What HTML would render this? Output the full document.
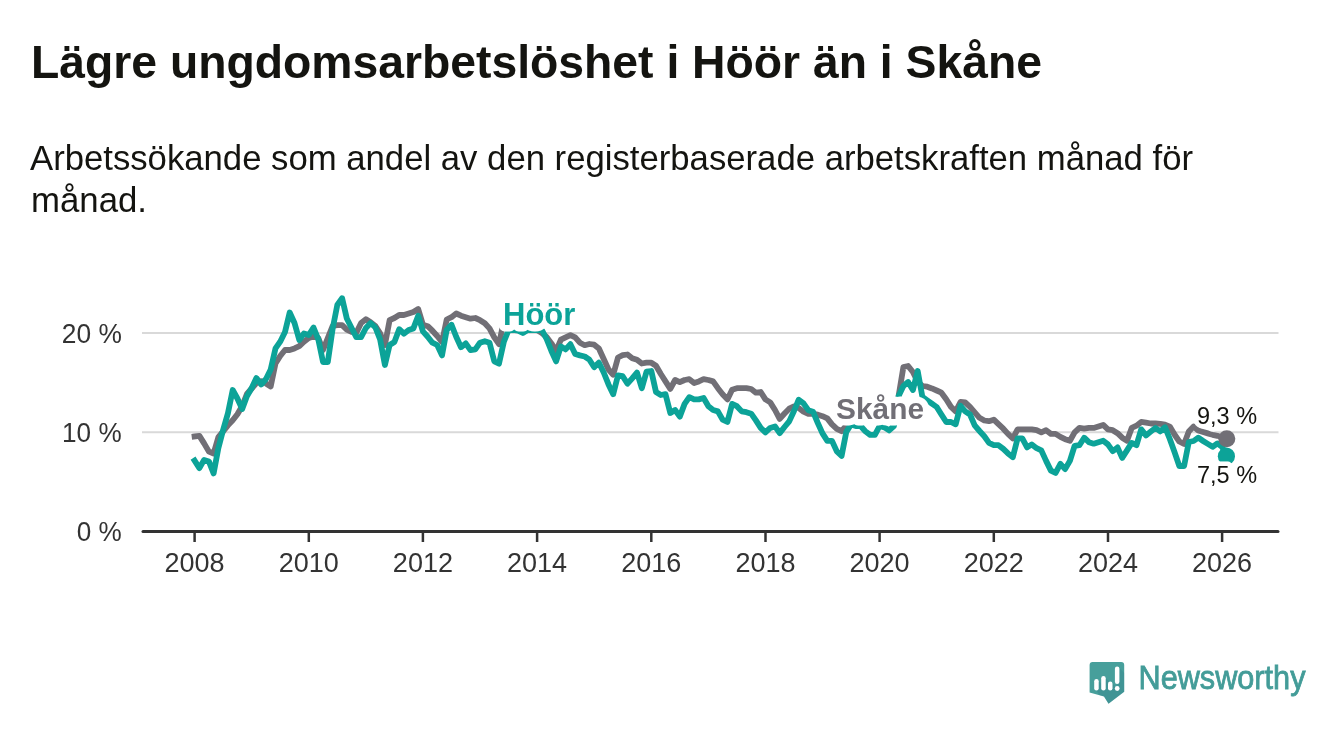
<!DOCTYPE html>
<html><head><meta charset="utf-8"><style>
html,body{margin:0;padding:0;background:#fff;}
body{width:1340px;height:734px;overflow:hidden;}
svg{display:block;font-family:"Liberation Sans", sans-serif;will-change:transform;}
</style></head><body>
<svg width="1340" height="734" viewBox="0 0 1340 734">
<rect width="1340" height="734" fill="#fff"/>
<text x="31" y="77.8" font-size="47" font-weight="bold" fill="#141410" textLength="1011" lengthAdjust="spacingAndGlyphs">Lägre ungdomsarbetslöshet i Höör än i Skåne</text>
<text x="30" y="169.6" font-size="35.8" fill="#141410" textLength="1163" lengthAdjust="spacingAndGlyphs">Arbetssökande som andel av den registerbaserade arbetskraften månad för</text>
<text x="31" y="211.8" font-size="35.8" fill="#141410" textLength="116" lengthAdjust="spacingAndGlyphs">månad.</text>
<g font-size="27" fill="#333" text-anchor="end">
<text x="121.8" y="342.8" textLength="60" lengthAdjust="spacingAndGlyphs">20 %</text>
<text x="121.6" y="442" textLength="59.5" lengthAdjust="spacingAndGlyphs">10 %</text>
<text x="121.8" y="541" textLength="45" lengthAdjust="spacingAndGlyphs">0 %</text>
</g>
<line x1="142" y1="333.1" x2="1278.5" y2="333.1" stroke="#d9d9d9" stroke-width="2"/>
<line x1="142" y1="432.3" x2="1278.5" y2="432.3" stroke="#d9d9d9" stroke-width="2"/>
<line x1="194.6" y1="531" x2="194.6" y2="542" stroke="#333" stroke-width="2.5"/><line x1="308.8" y1="531" x2="308.8" y2="542" stroke="#333" stroke-width="2.5"/><line x1="422.9" y1="531" x2="422.9" y2="542" stroke="#333" stroke-width="2.5"/><line x1="537.1" y1="531" x2="537.1" y2="542" stroke="#333" stroke-width="2.5"/><line x1="651.3" y1="531" x2="651.3" y2="542" stroke="#333" stroke-width="2.5"/><line x1="765.5" y1="531" x2="765.5" y2="542" stroke="#333" stroke-width="2.5"/><line x1="879.6" y1="531" x2="879.6" y2="542" stroke="#333" stroke-width="2.5"/><line x1="993.8" y1="531" x2="993.8" y2="542" stroke="#333" stroke-width="2.5"/><line x1="1108.0" y1="531" x2="1108.0" y2="542" stroke="#333" stroke-width="2.5"/><line x1="1222.1" y1="531" x2="1222.1" y2="542" stroke="#333" stroke-width="2.5"/>
<line x1="143" y1="531.4" x2="1278" y2="531.4" stroke="#333" stroke-width="3" stroke-linecap="round"/>
<text x="194.6" y="572.4" text-anchor="middle" font-size="27" fill="#333">2008</text><text x="308.8" y="572.4" text-anchor="middle" font-size="27" fill="#333">2010</text><text x="422.9" y="572.4" text-anchor="middle" font-size="27" fill="#333">2012</text><text x="537.1" y="572.4" text-anchor="middle" font-size="27" fill="#333">2014</text><text x="651.3" y="572.4" text-anchor="middle" font-size="27" fill="#333">2016</text><text x="765.5" y="572.4" text-anchor="middle" font-size="27" fill="#333">2018</text><text x="879.6" y="572.4" text-anchor="middle" font-size="27" fill="#333">2020</text><text x="993.8" y="572.4" text-anchor="middle" font-size="27" fill="#333">2022</text><text x="1108.0" y="572.4" text-anchor="middle" font-size="27" fill="#333">2024</text><text x="1222.1" y="572.4" text-anchor="middle" font-size="27" fill="#333">2026</text>
<path d="M194.6,436.5 L199.4,435.9 L204.1,443.4 L208.9,451.6 L213.6,453.5 L218.4,437.0 L223.1,431.4 L227.9,425.4 L232.7,420.2 L237.4,414.2 L242.2,406.0 L246.9,394.0 L251.7,388.5 L256.4,383.0 L261.2,381.2 L266.0,383.5 L270.7,386.5 L275.5,363.4 L280.2,356.0 L285.0,350.0 L289.7,350.0 L294.5,348.4 L299.3,346.2 L304.0,341.7 L308.8,338.0 L313.5,336.4 L318.3,338.0 L323.0,350.0 L327.8,338.0 L332.6,326.0 L337.3,325.2 L342.1,325.2 L346.8,329.7 L351.6,332.0 L356.3,332.7 L361.1,323.0 L365.9,319.2 L370.6,322.2 L375.4,326.0 L380.1,333.4 L384.9,345.0 L389.6,320.2 L394.4,318.0 L399.2,315.0 L403.9,315.0 L408.7,313.5 L413.4,312.0 L418.2,309.0 L422.9,324.7 L427.7,326.2 L432.4,330.7 L437.2,336.0 L442.0,342.0 L446.7,319.5 L451.5,317.2 L456.2,313.5 L461.0,315.7 L465.7,317.2 L470.5,318.7 L475.3,318.0 L480.0,320.2 L484.8,323.2 L489.5,328.4 L494.3,337.4 L499.0,344.2 L503.8,321.0 L508.6,322.0 L513.3,325.0 L518.1,325.0 L522.8,325.0 L527.6,325.0 L532.3,325.0 L537.1,330.0 L541.9,333.0 L546.6,337.0 L551.4,343.4 L556.1,351.0 L560.9,339.7 L565.6,337.4 L570.4,335.2 L575.2,337.4 L579.9,342.7 L584.7,345.2 L589.4,344.0 L594.2,344.7 L598.9,348.5 L603.7,359.0 L608.5,369.5 L613.2,374.7 L618.0,357.5 L622.7,355.2 L627.5,354.5 L632.2,358.2 L637.0,359.7 L641.8,363.5 L646.5,362.7 L651.3,362.7 L656.0,365.7 L660.8,374.0 L665.5,381.4 L670.3,388.9 L675.1,380.0 L679.8,382.2 L684.6,380.0 L689.3,379.2 L694.1,383.0 L698.8,381.4 L703.6,379.2 L708.4,380.0 L713.1,381.4 L717.9,388.2 L722.6,394.2 L727.4,399.4 L732.1,389.7 L736.9,388.2 L741.7,388.2 L746.4,388.2 L751.2,389.0 L755.9,392.7 L760.7,392.0 L765.4,399.4 L770.2,402.4 L775.0,410.0 L779.7,418.9 L784.5,413.5 L789.2,408.7 L794.0,406.4 L798.7,408.0 L803.5,411.7 L808.3,413.9 L813.0,413.9 L817.8,414.7 L822.5,416.2 L827.3,418.4 L832.0,424.4 L836.8,428.9 L841.6,431.2 L846.3,425.5 L851.1,419.0 L855.8,419.0 L860.6,419.0 L865.3,419.0 L870.1,419.0 L874.9,419.0 L879.6,419.0 L884.4,419.0 L889.1,419.0 L893.9,419.0 L898.6,396.0 L903.4,367.0 L908.1,366.0 L912.9,372.0 L917.7,381.8 L922.4,386.0 L927.2,386.7 L931.9,388.4 L936.7,390.5 L941.4,392.7 L946.2,399.3 L951.0,406.9 L955.7,411.3 L960.5,402.0 L965.2,402.5 L970.0,406.9 L974.7,412.3 L979.5,417.8 L984.3,420.5 L989.0,421.2 L993.8,419.7 L998.5,424.2 L1003.3,428.7 L1008.0,433.9 L1012.8,438.4 L1017.6,429.4 L1022.3,429.4 L1027.1,429.4 L1031.8,429.4 L1036.6,430.2 L1041.3,432.4 L1046.1,430.2 L1050.9,433.9 L1055.6,433.9 L1060.4,436.9 L1065.1,439.2 L1069.9,440.7 L1074.6,432.4 L1079.4,427.9 L1084.2,428.7 L1088.9,427.9 L1093.7,427.9 L1098.4,426.4 L1103.2,424.9 L1107.9,429.4 L1112.7,430.2 L1117.5,433.2 L1122.2,437.7 L1127.0,440.7 L1131.7,427.9 L1136.5,425.7 L1141.2,421.9 L1146.0,422.6 L1150.8,423.5 L1155.5,423.5 L1160.3,423.8 L1165.0,424.6 L1169.8,426.6 L1174.5,434.5 L1179.3,441.5 L1184.1,444.0 L1188.8,431.5 L1193.6,426.5 L1198.3,430.5 L1203.1,432.0 L1207.8,433.4 L1212.6,434.8 L1217.4,435.8 L1222.1,437.2 L1226.9,438.6" fill="none" stroke="#716f76" stroke-width="5.8" stroke-linejoin="round" stroke-linecap="square"/>
<path d="M194.6,460.6 L199.4,468.1 L204.1,459.9 L208.9,461.4 L213.6,473.4 L218.4,447.9 L223.1,430.0 L227.9,413.4 L232.7,390.0 L237.4,398.5 L242.2,409.0 L246.9,396.2 L251.7,388.0 L256.4,378.0 L261.2,384.5 L266.0,379.0 L270.7,369.5 L275.5,348.4 L280.2,341.7 L285.0,332.0 L289.7,312.5 L294.5,323.0 L299.3,340.0 L304.0,333.4 L308.8,335.0 L313.5,327.5 L318.3,339.4 L323.0,362.0 L327.8,362.0 L332.6,329.0 L337.3,305.0 L342.1,298.2 L346.8,318.5 L351.6,328.0 L356.3,337.2 L361.1,337.2 L365.9,328.0 L370.6,323.0 L375.4,327.5 L380.1,339.4 L384.9,365.0 L389.6,345.0 L394.4,342.0 L399.2,329.2 L403.9,333.7 L408.7,330.0 L413.4,328.4 L418.2,315.7 L422.9,331.4 L427.7,336.7 L432.4,342.7 L437.2,345.0 L442.0,355.4 L446.7,330.0 L451.5,324.7 L456.2,336.7 L461.0,347.2 L465.7,343.4 L470.5,350.2 L475.3,349.4 L480.0,342.7 L484.8,341.2 L489.5,342.7 L494.3,361.4 L499.0,363.7 L503.8,342.0 L508.6,330.0 L513.3,330.0 L518.1,330.7 L522.8,333.0 L527.6,330.0 L532.3,330.0 L537.1,330.0 L541.9,330.0 L546.6,339.0 L551.4,351.0 L556.1,361.4 L560.9,346.4 L565.6,349.4 L570.4,344.2 L575.2,354.0 L579.9,355.4 L584.7,356.5 L589.4,359.7 L594.2,367.2 L598.9,362.7 L603.7,372.5 L608.5,384.4 L613.2,394.2 L618.0,375.4 L622.7,376.2 L627.5,383.7 L632.2,378.4 L637.0,372.5 L641.8,388.2 L646.5,371.7 L651.3,371.0 L656.0,392.0 L660.8,395.0 L665.5,394.2 L670.3,413.0 L675.1,410.0 L679.8,416.6 L684.6,403.9 L689.3,397.2 L694.1,399.4 L698.8,399.4 L703.6,398.0 L708.4,406.2 L713.1,410.0 L717.9,411.4 L722.6,419.6 L727.4,421.9 L732.1,403.9 L736.9,406.2 L741.7,411.4 L746.4,412.2 L751.2,413.7 L755.9,420.4 L760.7,427.9 L765.4,432.4 L770.2,427.9 L775.0,426.4 L779.7,433.1 L784.5,427.0 L789.2,421.4 L794.0,411.0 L798.7,399.7 L803.5,403.4 L808.3,410.2 L813.0,411.7 L817.8,423.0 L822.5,433.4 L827.3,440.9 L832.0,440.9 L836.8,451.4 L841.6,455.9 L846.3,431.9 L851.1,424.4 L855.8,426.0 L860.6,426.0 L865.3,431.2 L870.1,434.9 L874.9,434.9 L879.6,426.0 L884.4,427.4 L889.1,430.4 L893.9,426.0 L898.6,396.0 L903.4,386.0 L908.1,382.0 L912.9,390.0 L917.7,371.0 L922.4,397.0 L927.2,400.3 L931.9,403.6 L936.7,407.0 L941.4,414.5 L946.2,422.0 L951.0,422.0 L955.7,424.3 L960.5,405.8 L965.2,411.3 L970.0,414.5 L974.7,425.4 L979.5,431.0 L984.3,436.3 L989.0,442.9 L993.8,445.2 L998.5,445.2 L1003.3,448.9 L1008.0,453.4 L1012.8,457.2 L1017.6,438.4 L1022.3,438.4 L1027.1,447.4 L1031.8,444.4 L1036.6,448.2 L1041.3,450.4 L1046.1,460.9 L1050.9,470.6 L1055.6,472.9 L1060.4,463.9 L1065.1,469.1 L1069.9,460.9 L1074.6,445.9 L1079.4,445.2 L1084.2,437.7 L1088.9,442.2 L1093.7,443.7 L1098.4,442.2 L1103.2,440.7 L1107.9,444.4 L1112.7,451.2 L1117.5,447.4 L1122.2,457.9 L1127.0,450.4 L1131.7,442.9 L1136.5,445.2 L1141.2,429.4 L1146.0,435.4 L1150.8,431.6 L1155.5,428.0 L1160.3,431.4 L1165.0,427.2 L1169.8,439.0 L1174.5,452.0 L1179.3,466.0 L1184.1,466.0 L1188.8,442.0 L1193.6,441.0 L1198.3,437.7 L1203.1,441.0 L1207.8,443.9 L1212.6,446.8 L1217.4,443.4 L1222.1,446.8 L1226.9,456.0" fill="none" stroke="#0ca398" stroke-width="5.8" stroke-linejoin="round" stroke-linecap="square"/>
<circle cx="1226.8" cy="438.7" r="8.5" fill="#716f76"/>
<circle cx="1226.4" cy="456.2" r="8.6" fill="#0ca398"/>
<g font-weight="bold" font-size="31" stroke="#fff" stroke-width="13" stroke-linejoin="round" paint-order="stroke">
<text x="503" y="324.7" fill="#0ca398">Höör</text>
<text x="836" y="419" fill="#716f76" font-size="30" textLength="88" lengthAdjust="spacingAndGlyphs">Skåne</text>
</g>
<g font-size="23.5" fill="#141410" stroke="#fff" stroke-width="9" stroke-linejoin="round" paint-order="stroke">
<text x="1197" y="424.3">9,3 %</text>
<text x="1197" y="482.8">7,5 %</text>
</g>
<defs><clipPath id="lc"><path d="M1092.6,662.1 H1121.2 Q1124.2,662.1 1124.2,665.1 V691.7 L1108.5,703.7 L1104,696.5 L1089.6,692.5 V665.1 Q1089.6,662.1 1092.6,662.1 Z"/></clipPath></defs>
<g>
<path d="M1092.6,662.1 H1121.2 Q1124.2,662.1 1124.2,665.1 V691.7 L1108.5,703.7 L1104,696.5 L1089.6,692.5 V665.1 Q1089.6,662.1 1092.6,662.1 Z" fill="#479f9b"/>
<g clip-path="url(#lc)" fill="#2f7585" opacity="0.25">
<path d="M1098.7,681 L1130,712 L1110,712 L1096.5,690.6 Z"/>
<path d="M1105.7,678 L1130,702 L1130,712 L1103.5,690.6 Z"/>
<path d="M1112.5,683.5 L1130,701 L1130,712 L1110.3,690.6 Z"/>
<path d="M1119.4,668 L1130,678.6 L1130,712 L1117.2,690.9 Z"/>
</g>
<rect x="1094.2" y="679" width="4.5" height="11.6" rx="2.25" fill="#fff"/>
<rect x="1101.2" y="676" width="4.5" height="14.6" rx="2.25" fill="#fff"/>
<rect x="1108" y="681.5" width="4.5" height="9.1" rx="2.25" fill="#fff"/>
<rect x="1114.9" y="666.5" width="4.5" height="17.5" rx="2.25" fill="#fff"/>
<circle cx="1117.2" cy="688.5" r="2.4" fill="#fff"/>
</g>
<text x="1138.5" y="688.7" font-size="32.5" fill="#439c98" stroke="#439c98" stroke-width="0.8" textLength="167" lengthAdjust="spacingAndGlyphs">Newsworthy</text>
</svg>
</body></html>
